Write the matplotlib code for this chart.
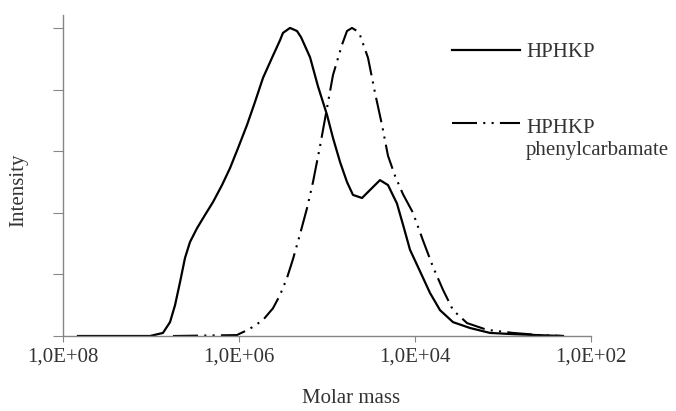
import matplotlib
matplotlib.use("Agg")
import matplotlib.pyplot as plt
from matplotlib.lines import Line2D

# データ (log10 モル質量, 強度)
series_names = ["HPHKP", "HPHKP\nphenylcarbamate"]

hphkp_logm = [7.830, 7.011, 6.864, 6.784, 6.727, 6.670, 6.614, 6.557, 6.477,
              6.386, 6.295, 6.193, 6.102, 6.011, 5.909, 5.818, 5.727, 5.625,
              5.534, 5.500, 5.420, 5.341, 5.295, 5.193, 5.102, 5.000, 4.932,
              4.852, 4.773, 4.705, 4.602, 4.511, 4.398, 4.307, 4.205, 4.125,
              4.057, 3.943, 3.830, 3.716, 3.568, 3.375, 3.148, 2.886, 2.614,
              2.318]
hphkp_int = [0.0, 0.0, 0.01, 0.045, 0.10, 0.175, 0.253, 0.305, 0.35,
             0.393, 0.435, 0.49, 0.545, 0.61, 0.685, 0.76, 0.838, 0.903,
             0.96, 0.984, 1.0, 0.99, 0.97, 0.905, 0.81, 0.718, 0.643,
             0.565, 0.5, 0.458, 0.448, 0.474, 0.506, 0.49, 0.43, 0.35,
             0.28, 0.21, 0.14, 0.084, 0.045, 0.026, 0.01, 0.006, 0.003,
             0.0]

carb_logm = [6.750, 6.023, 5.989, 5.898, 5.841, 5.727, 5.614, 5.534, 5.455,
             5.386, 5.307, 5.227, 5.159, 5.080, 5.000, 4.932, 4.830, 4.773,
             4.716, 4.659, 4.625, 4.534, 4.455, 4.375, 4.307, 4.227, 4.136,
             4.023, 3.909, 3.795, 3.682, 3.568, 3.409, 3.182, 2.886, 2.580,
             2.318]
carb_int = [0.0, 0.003, 0.008, 0.02, 0.03, 0.052, 0.09, 0.133, 0.188,
            0.25, 0.33, 0.415, 0.5, 0.615, 0.74, 0.847, 0.945, 0.99,
            1.0, 0.99, 0.977, 0.903, 0.79, 0.685, 0.585, 0.52, 0.46,
            0.40, 0.31, 0.224, 0.15, 0.084, 0.042, 0.02, 0.01, 0.003,
            0.0]

x_ticks = [1e8, 1e6, 1e4, 1e2]
x_tick_labels = ["1,0E+08", "1,0E+06", "1,0E+04", "1,0E+02"]
y_ticks = [0, 0.2, 0.4, 0.6, 0.8, 1.0]

plt.rcParams['font.family'] = ['Liberation Serif', 'DejaVu Serif']
FS = 15
TXT = '#333333'
GRAY = '#868686'
DASH = (12, 3, 1, 3, 1, 3)

W, H = 676, 411
fig = plt.figure(figsize=(W / 100, H / 100), dpi=100)
ax = fig.add_axes([63 / W, 1 - 336 / H, (591 - 63) / W, (336 - 15) / H])

hx = [10 ** v for v in hphkp_logm]
cx = [10 ** v for v in carb_logm]
ax.plot(hx, hphkp_int, color='black', lw=1.6, solid_joinstyle='round')
ax.plot(cx, carb_int, color='black', lw=1.5, dashes=DASH)

ax.set_xscale('log')
ax.set_xlim(1e8, 1e2)
ax.set_ylim(0, 1.042)
ax.set_xticks(x_ticks)
ax.set_xticklabels(x_tick_labels, fontsize=FS, color=TXT)
ax.minorticks_off()
ax.set_yticks(y_ticks)
ax.set_yticklabels([])

for s in ['top', 'right']:
    ax.spines[s].set_visible(False)
for s in ['left', 'bottom']:
    ax.spines[s].set_color(GRAY)
    ax.spines[s].set_linewidth(1.0)
ax.tick_params(axis='x', direction='out', length=4.5, color=GRAY, pad=4)
ax.tick_params(axis='y', direction='out', length=7, color=GRAY)

# 軸ラベル
fig.text(19 / W, 1 - 190 / H, "Intensity", rotation=90, ha='center', va='center',
         fontsize=FS, color=TXT)
fig.text(351 / W, 1 - 398 / H, "Molar mass", ha='center', va='center',
         fontsize=FS, color=TXT)

# 凡例 (手動配置)
fig.add_artist(Line2D([452 / W, 520 / W], [1 - 50 / H, 1 - 50 / H],
                      color='black', lw=1.6))
fig.add_artist(Line2D([452 / W, 520 / W], [1 - 123 / H, 1 - 123 / H],
                      color='black', lw=1.5, dashes=DASH))
fig.text(526 / W, 1 - 57 / H, series_names[0], ha='left', va='baseline',
         fontsize=FS, color=TXT)
fig.text(526 / W, 1 - 155 / H, series_names[1], ha='left', va='baseline',
         fontsize=FS, color=TXT, linespacing=1.2)

fig.savefig('out.png', dpi=100)
